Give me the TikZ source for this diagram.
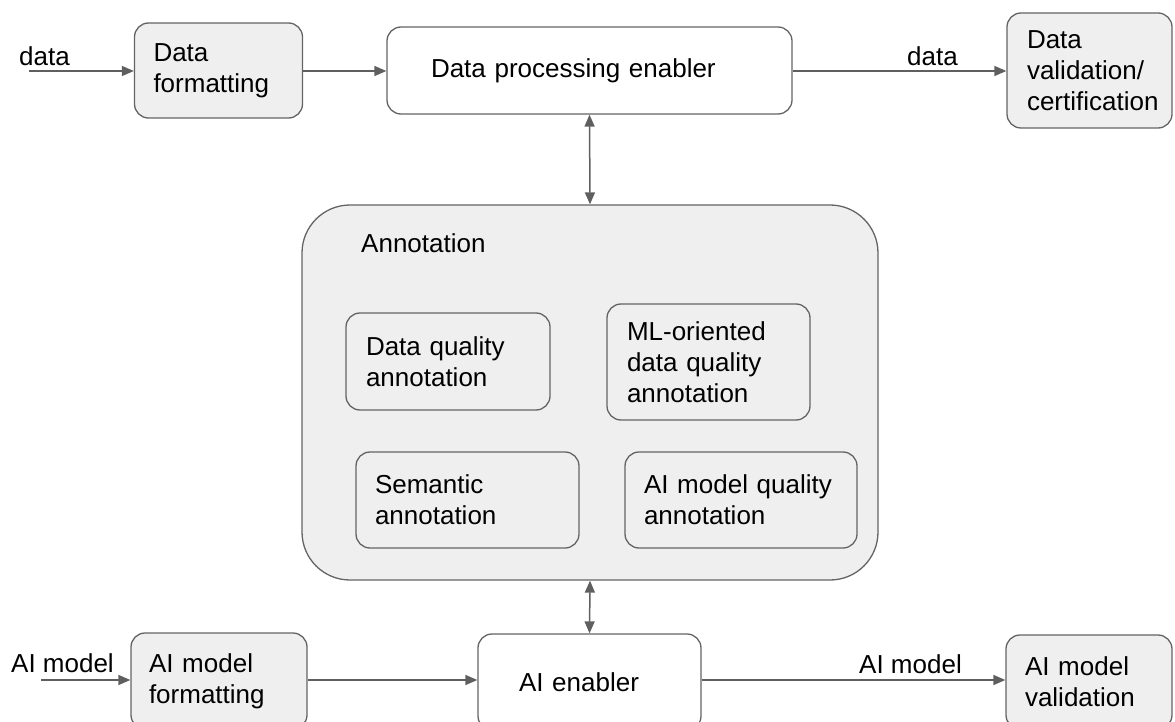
\documentclass[tikz,border=0pt]{standalone}
\usepackage{fontspec}
\setmainfont{Liberation Sans}
\usetikzlibrary{arrows.meta}

\definecolor{boxfill}{RGB}{239,239,239}
\definecolor{boxline}{RGB}{100,100,100}
\definecolor{arrowcol}{RGB}{95,95,95}

\begin{document}
\begin{tikzpicture}[x=1pt,y=-1pt,
  every node/.style={font=\fontsize{26}{31}\selectfont},
  card/.style={draw=boxline, line width=1.3pt, rounded corners=14pt,
    align=left, inner ysep=0pt},
  greycard/.style={card, fill=boxfill},
  whitecard/.style={card, fill=white},
  flow/.style={draw=arrowcol, line width=1.5pt,
    -{Triangle[length=12pt,width=10pt]}},
  twoway/.style={draw=arrowcol, line width=1.5pt,
    {Triangle[length=12pt,width=10pt]}-{Triangle[length=12pt,width=10pt]}},
  lbl/.style={inner sep=0pt}
]
\useasboundingbox (0,0) rectangle (1175,722);
\clip (0,0) rectangle (1175,722);

% data pipeline (top row)
\node[greycard, minimum width=168pt, minimum height=95pt,
      text width=130pt, inner xsep=19pt] (fmt) at (218.5,70.5)
  {Data\\formatting};
\node[whitecard, minimum width=405pt, minimum height=87pt,
      text width=317pt, inner xsep=44pt] (dpe) at (589.5,70.5)
  {Data processing enabler};
\node[greycard, minimum width=165pt, minimum height=115pt,
      text width=125pt, inner xsep=20pt] (dval) at (1089.5,70.5)
  {Data\\validation/\\certification};

% annotation block
\node[draw=boxline, fill=boxfill, line width=1.3pt, rounded corners=48pt,
      minimum width=576pt, minimum height=375pt] (ann) at (590,392.5) {};
\node[lbl, anchor=west] (anntitle) at (361,243) {Annotation};

\node[greycard, minimum width=204pt, minimum height=97pt,
      text width=164pt, inner xsep=20pt] (dq) at (448,361.5)
  {Data quality\\annotation};
\node[greycard, minimum width=203pt, minimum height=116pt,
      text width=163pt, inner xsep=20pt] (ml) at (708.5,362)
  {ML-oriented\\data quality\\annotation};
\node[greycard, minimum width=223pt, minimum height=96pt,
      text width=185pt, inner xsep=19pt] (sem) at (467.5,500)
  {Semantic\\annotation};
\node[greycard, minimum width=232pt, minimum height=96pt,
      text width=194pt, inner xsep=19pt] (aiq) at (741,500)
  {AI model quality\\annotation};

% model pipeline (bottom row)
\node[greycard, minimum width=176pt, minimum height=96pt,
      text width=140pt, inner xsep=18pt] (aifmt) at (219,681)
  {AI model\\formatting};
\node[whitecard, minimum width=223pt, minimum height=96pt,
      text width=141pt, inner xsep=41pt] (aien) at (589.5,682)
  {AI enabler};
\node[greycard, minimum width=166pt, minimum height=94pt,
      text width=128pt, inner xsep=19pt] (aival) at (1089,682)
  {AI model\\validation};

% inputs
\coordinate (datain) at (29,71);
\coordinate (modelin) at (41,680);

% connectors, top row
\draw[flow] (datain) -- (datain -| fmt.west);
\node[lbl, anchor=base west] (ldatain) at (19,66) {data};
\draw[flow] (fmt.east |- datain) -- (dpe.west |- datain);
\draw[flow] (dpe.east |- datain) -- (dval.west |- datain);
\node[lbl, anchor=base west] (ldataout) at (907,66) {data};

% links to the annotation block
\draw[twoway] (dpe.south) -- (ann.north);
\draw[twoway] (ann.south) -- (aien.north);

% connectors, bottom row
\draw[flow] (modelin) -- (modelin -| aifmt.west);
\node[lbl, anchor=base west] (lmodelin) at (11,672) {AI model};
\draw[flow] (aifmt.east |- modelin) -- (aien.west |- modelin);
\draw[flow] (aien.east |- modelin) -- (aival.west |- modelin);
\node[lbl, anchor=base west] (lmodelout) at (859,673) {AI model};
\end{tikzpicture}
\end{document}
